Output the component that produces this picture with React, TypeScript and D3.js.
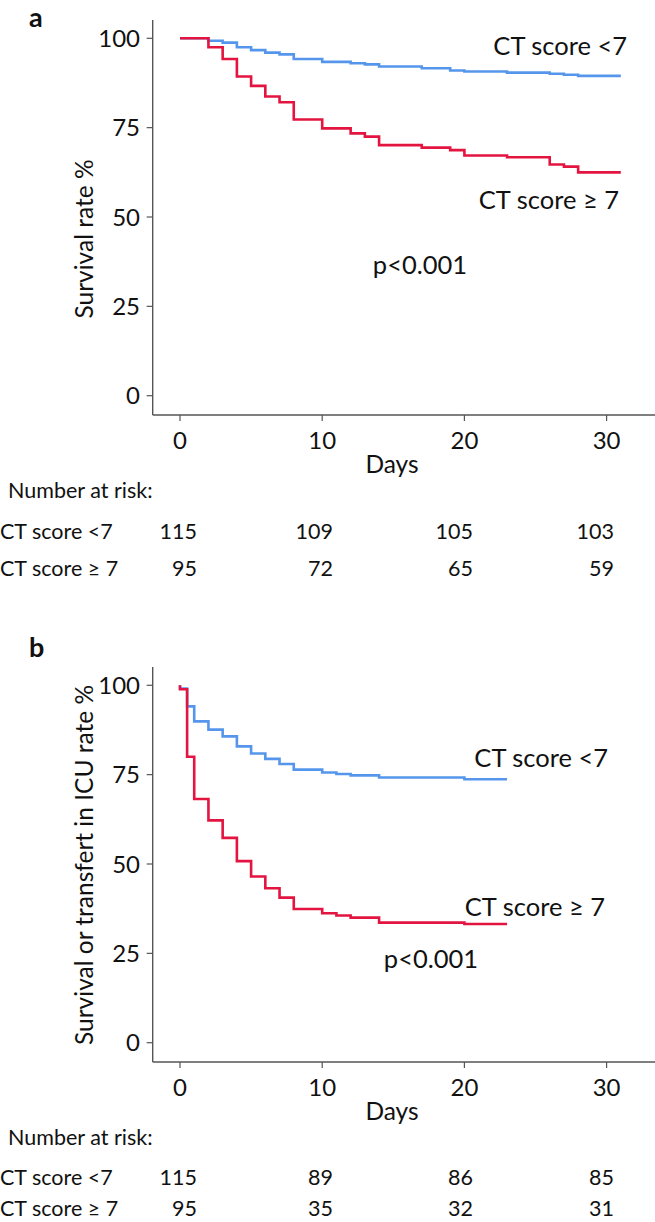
import React from "react";
import * as d3 from "d3";

// ---------- data ----------
const tickValuesY = [0, 25, 50, 75, 100];
const tickValuesX = [0, 10, 20, 30];
const groupLabels = ["CT score <7", "CT score \u2265 7"];
const panelLetters = ["a", "b"];
const yTitles = ["Survival rate %", "Survival or transfert in ICU rate %"];
const pLabels = ["p<0.001", "p<0.001"];
const xTitle = "Days";
const riskTitle = "Number at risk:";

// panel a: survival
const aLowDays = [0, 2, 3, 4, 5, 6, 7, 8, 10, 12, 13, 14, 17, 19, 20, 23, 26, 27, 28, 31];
const aLowRate = [100, 99.3, 98.8, 97.5, 96.7, 96.0, 95.5, 94.2, 93.4, 93.0, 92.7, 92.1, 91.6, 91.0, 90.7, 90.4, 90.1, 89.8, 89.5, 89.5];
const aHighDays = [0, 2, 3, 4, 5, 6, 7, 8, 10, 12, 13, 14, 17, 19, 20, 23, 26, 27, 28, 31];
const aHighRate = [100, 97.5, 94.2, 89.3, 86.7, 83.7, 82.1, 77.3, 74.8, 73.4, 72.5, 70.1, 69.4, 68.7, 67.2, 66.7, 64.7, 64.1, 62.5, 62.5];
const aRiskLow = [115, 109, 105, 103];
const aRiskHigh = [95, 72, 65, 59];

// panel b: survival or transfer in ICU
const bLowDays = [0, 0, 0.5, 1, 2, 3, 4, 5, 6, 7, 8, 10, 11, 12, 14, 20, 23];
const bLowRate = [100, 99.1, 94.1, 89.9, 87.6, 85.7, 82.9, 80.9, 79.4, 78.0, 76.4, 75.6, 75.2, 74.8, 74.2, 73.7, 73.7];
const bHighDays = [0, 0, 0.5, 1, 2, 3, 4, 5, 6, 7, 8, 10, 11, 12, 14, 20, 23];
const bHighRate = [100, 98.9, 80.0, 68.2, 62.2, 57.3, 50.8, 46.5, 43.2, 40.6, 37.4, 36.2, 35.6, 35.0, 33.6, 33.2, 33.2];
const bRiskLow = [115, 89, 86, 85];
const bRiskHigh = [95, 35, 32, 31];

// ---------- style ----------
const FONT = "Lato, 'Open Sans', sans-serif";
const BLUE = "#5596ec";
const RED = "#e3143f";
const AXIS = "#555";
const TXT = "#111";

const W = 655;
const H = 1222;

type PanelProps = {
  dy: number;
  letter: string;
  yTitle: string;
  yTitleCenter: number;
  lowDays: number[];
  lowRate: number[];
  highDays: number[];
  highRate: number[];
  riskLow: number[];
  riskHigh: number[];
  lowLabel: { x: number; y: number };
  highLabel: { x: number; y: number };
  p: { x: number; y: number; text: string };
  letterY: number;
  rowY: [number, number];
};

const x = d3.scaleLinear().domain([0, 30]).range([180, 606.6]);
const y = d3.scaleLinear().domain([0, 100]).range([395.7, 38.3]);
const axisX = 152.7;
const axisY = 415;
const axisTop = 20;
const riskCols = [197, 333, 473, 614];

const lineGen = d3
  .line<[number, number]>()
  .x((d) => x(d[0]))
  .y((d) => y(d[1]))
  .curve(d3.curveStepAfter);

function Panel(props: PanelProps) {
  const {
    dy, letter, yTitle, yTitleCenter, lowDays, lowRate, highDays, highRate,
    riskLow, riskHigh, lowLabel, highLabel, p, letterY, rowY,
  } = props;
  const lowPts = lowDays.map((d, i) => [d, lowRate[i]] as [number, number]);
  const highPts = highDays.map((d, i) => [d, highRate[i]] as [number, number]);
  return (
    <g transform={`translate(0,${dy})`}>
      <text x={29} y={letterY} fontFamily={FONT} fontWeight="bold" fontSize={27} fill={TXT}>
        {letter}
      </text>
      {/* axes */}
      <line x1={axisX} x2={axisX} y1={axisTop} y2={axisY} stroke={AXIS} strokeWidth={1.4} />
      <line x1={axisX} x2={W} y1={axisY} y2={axisY} stroke={AXIS} strokeWidth={1.4} />
      {tickValuesY.map((t) => (
        <g key={"y" + t}>
          <line x1={axisX - 6} x2={axisX} y1={y(t)} y2={y(t)} stroke={AXIS} strokeWidth={1.2} />
          <text x={140} y={y(t) + 8.6} textAnchor="end" fontFamily={FONT} fontSize={24} fill={TXT}>
            {t}
          </text>
        </g>
      ))}
      {tickValuesX.map((t) => (
        <g key={"x" + t}>
          <line x1={x(t)} x2={x(t)} y1={axisY} y2={axisY + 6} stroke={AXIS} strokeWidth={1.2} />
          <text x={x(t)} y={449} textAnchor="middle" fontFamily={FONT} fontSize={24} fill={TXT}>
            {t}
          </text>
        </g>
      ))}
      <text x={392} y={473} textAnchor="middle" fontFamily={FONT} fontSize={24.5} fill={TXT}>
        {xTitle}
      </text>
      <text
        transform={`translate(93,${yTitleCenter}) rotate(-90)`}
        textAnchor="middle"
        fontFamily={FONT}
        fontSize={24.5}
        fill={TXT}
      >
        {yTitle}
      </text>
      {/* curves */}
      <path d={lineGen(lowPts) || ""} fill="none" stroke={BLUE} strokeWidth={2.6} />
      <path d={lineGen(highPts) || ""} fill="none" stroke={RED} strokeWidth={2.6} />
      {/* labels */}
      <text x={lowLabel.x} y={lowLabel.y} textAnchor="end" fontFamily={FONT} fontSize={25.5} fill={TXT}>
        {groupLabels[0]}
      </text>
      <text x={highLabel.x} y={highLabel.y} textAnchor="end" fontFamily={FONT} fontSize={25.5} fill={TXT}>
        {groupLabels[1]}
      </text>
      <text x={p.x} y={p.y} textAnchor="middle" fontFamily={FONT} fontSize={25.5} fill={TXT}>
        {p.text}
      </text>
      {/* risk table */}
      <text x={8} y={498} fontFamily={FONT} fontSize={21.5} fill={TXT}>
        {riskTitle}
      </text>
      <text x={0} y={rowY[0]} fontFamily={FONT} fontSize={21.5} fill={TXT}>
        {groupLabels[0]}
      </text>
      <text x={0} y={rowY[1]} fontFamily={FONT} fontSize={21.5} fill={TXT}>
        {groupLabels[1]}
      </text>
      {riskLow.map((v, i) => (
        <text key={"rl" + i} x={riskCols[i]} y={rowY[0]} textAnchor="end" fontFamily={FONT} fontSize={21.5} fill={TXT}>
          {v}
        </text>
      ))}
      {riskHigh.map((v, i) => (
        <text key={"rh" + i} x={riskCols[i]} y={rowY[1]} textAnchor="end" fontFamily={FONT} fontSize={21.5} fill={TXT}>
          {v}
        </text>
      ))}
    </g>
  );
}

export default function App() {
  return (
    <svg
      width={W}
      height={H}
      viewBox={`0 0 ${W} ${H}`}
      style={{ position: "absolute", left: 0, top: 0, display: "block", background: "#fff" }}
    >
      <rect x={0} y={0} width={W} height={H} fill="#fff" />
      <Panel
        dy={0}
        letter={panelLetters[0]}
        yTitle={yTitles[0]}
        yTitleCenter={239}
        lowDays={aLowDays}
        lowRate={aLowRate}
        highDays={aHighDays}
        highRate={aHighRate}
        riskLow={aRiskLow}
        riskHigh={aRiskHigh}
        lowLabel={{ x: 627, y: 55 }}
        highLabel={{ x: 619, y: 208.5 }}
        p={{ x: 420, y: 274, text: pLabels[0] }}
        letterY={27}
        rowY={[539, 576]}
      />
      <Panel
        dy={647}
        letter={panelLetters[1]}
        yTitle={yTitles[1]}
        yTitleCenter={218}
        lowDays={bLowDays}
        lowRate={bLowRate}
        highDays={bHighDays}
        highRate={bHighRate}
        riskLow={bRiskLow}
        riskHigh={bRiskHigh}
        lowLabel={{ x: 608, y: 119.7 }}
        highLabel={{ x: 605, y: 269 }}
        p={{ x: 431, y: 321, text: pLabels[1] }}
        letterY={10}
        rowY={[538, 569]}
      />
    </svg>
  );
}
